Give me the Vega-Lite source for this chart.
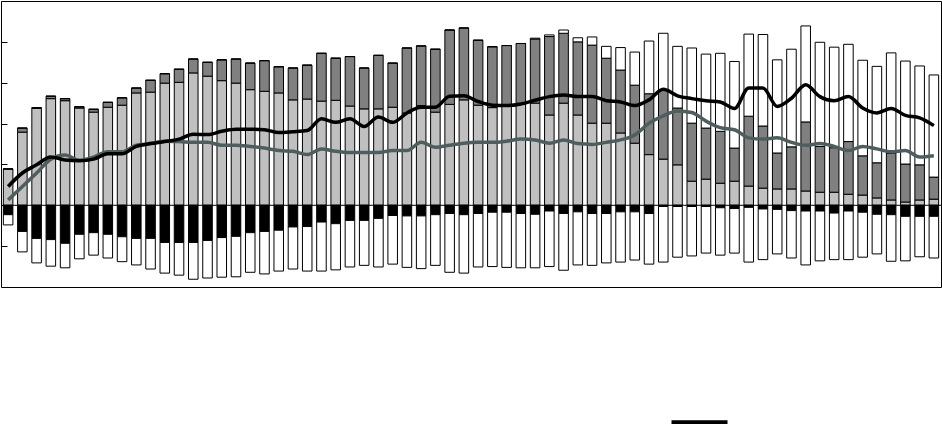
{
 "$schema": "https://vega.github.io/schema/vega-lite/v6.json",
 "width": 940,
 "height": 286,
 "autosize": {"type": "none"},
 "padding": {"left": 1, "top": 1, "right": 1, "bottom": 137},
 "background": "white",
 "config": {"view": {"stroke": "black", "strokeWidth": 1}},
 "data": {"values": [
  {"t":1,"p1":0.89,"p2":0,"p3":0,"n1":-0.23,"n2":-0.25,"k":0.46,"g":0.13},
  {"t":2,"p1":1.79,"p2":0.10,"p3":0,"n1":-0.64,"n2":-0.50,"k":0.79,"g":0.46},
  {"t":3,"p1":2.37,"p2":0.02,"p3":0,"n1":-0.81,"n2":-0.60,"k":0.99,"g":0.79},
  {"t":4,"p1":2.61,"p2":0.06,"p3":0,"n1":-0.84,"n2":-0.65,"k":1.18,"g":1.13},
  {"t":5,"p1":2.56,"p2":0.05,"p3":0,"n1":-0.93,"n2":-0.60,"k":1.11,"g":1.23},
  {"t":6,"p1":2.38,"p2":0.03,"p3":0,"n1":-0.71,"n2":-0.60,"k":1.09,"g":1.10},
  {"t":7,"p1":2.28,"p2":0.07,"p3":0,"n1":-0.67,"n2":-0.55,"k":1.13,"g":1.18},
  {"t":8,"p1":2.40,"p2":0.12,"p3":0,"n1":-0.71,"n2":-0.58,"k":1.26,"g":1.31},
  {"t":9,"p1":2.45,"p2":0.18,"p3":0,"n1":-0.77,"n2":-0.61,"k":1.26,"g":1.31},
  {"t":10,"p1":2.75,"p2":0.12,"p3":0,"n1":-0.81,"n2":-0.65,"k":1.44,"g":1.47},
  {"t":11,"p1":2.77,"p2":0.29,"p3":0,"n1":-0.81,"n2":-0.75,"k":1.51,"g":1.51},
  {"t":12,"p1":2.99,"p2":0.23,"p3":0,"n1":-0.91,"n2":-0.75,"k":1.56,"g":1.57},
  {"t":13,"p1":3.01,"p2":0.32,"p3":0,"n1":-0.91,"n2":-0.80,"k":1.62,"g":1.56},
  {"t":14,"p1":3.24,"p2":0.34,"p3":0,"n1":-0.91,"n2":-0.90,"k":1.74,"g":1.54},
  {"t":15,"p1":3.16,"p2":0.34,"p3":0,"n1":-0.86,"n2":-0.92,"k":1.73,"g":1.54},
  {"t":16,"p1":3.05,"p2":0.51,"p3":0,"n1":-0.79,"n2":-0.97,"k":1.81,"g":1.47},
  {"t":17,"p1":2.99,"p2":0.59,"p3":0,"n1":-0.76,"n2":-0.99,"k":1.86,"g":1.47},
  {"t":18,"p1":2.83,"p2":0.65,"p3":0,"n1":-0.67,"n2":-0.97,"k":1.86,"g":1.44},
  {"t":19,"p1":2.79,"p2":0.75,"p3":0,"n1":-0.64,"n2":-1.04,"k":1.85,"g":1.40},
  {"t":20,"p1":2.75,"p2":0.64,"p3":0,"n1":-0.61,"n2":-1.00,"k":1.78,"g":1.34},
  {"t":21,"p1":2.58,"p2":0.78,"p3":0,"n1":-0.53,"n2":-1.03,"k":1.80,"g":1.32},
  {"t":22,"p1":2.60,"p2":0.83,"p3":0,"n1":-0.52,"n2":-1.09,"k":1.83,"g":1.24},
  {"t":23,"p1":2.55,"p2":1.17,"p3":0,"n1":-0.41,"n2":-1.20,"k":2.12,"g":1.38},
  {"t":24,"p1":2.57,"p2":1.03,"p3":0,"n1":-0.45,"n2":-1.13,"k":2.03,"g":1.32},
  {"t":25,"p1":2.43,"p2":1.21,"p3":0,"n1":-0.37,"n2":-1.14,"k":2.12,"g":1.29},
  {"t":26,"p1":2.36,"p2":1.00,"p3":0,"n1":-0.37,"n2":-1.10,"k":1.93,"g":1.29},
  {"t":27,"p1":2.36,"p2":1.31,"p3":0,"n1":-0.32,"n2":-1.19,"k":2.16,"g":1.29},
  {"t":28,"p1":2.40,"p2":1.08,"p3":0,"n1":-0.25,"n2":-1.19,"k":2.03,"g":1.34},
  {"t":29,"p1":2.26,"p2":1.59,"p3":0,"n1":-0.26,"n2":-1.26,"k":2.26,"g":1.34},
  {"t":30,"p1":2.44,"p2":1.46,"p3":0,"n1":-0.26,"n2":-1.29,"k":2.40,"g":1.54},
  {"t":31,"p1":2.28,"p2":1.54,"p3":0,"n1":-0.23,"n2":-1.24,"k":2.40,"g":1.42},
  {"t":32,"p1":2.47,"p2":1.82,"p3":0,"n1":-0.20,"n2":-1.44,"k":2.67,"g":1.47},
  {"t":33,"p1":2.58,"p2":1.76,"p3":0,"n1":-0.23,"n2":-1.43,"k":2.68,"g":1.52},
  {"t":34,"p1":2.45,"p2":1.59,"p3":0,"n1":-0.20,"n2":-1.31,"k":2.54,"g":1.54},
  {"t":35,"p1":2.39,"p2":1.49,"p3":0,"n1":-0.17,"n2":-1.33,"k":2.45,"g":1.54},
  {"t":36,"p1":2.42,"p2":1.49,"p3":0,"n1":-0.17,"n2":-1.35,"k":2.44,"g":1.57},
  {"t":37,"p1":2.48,"p2":1.48,"p3":0,"n1":-0.20,"n2":-1.33,"k":2.48,"g":1.62},
  {"t":38,"p1":2.50,"p2":1.57,"p3":0.02,"n1":-0.22,"n2":-1.31,"k":2.57,"g":1.60},
  {"t":39,"p1":2.21,"p2":1.92,"p3":0.04,"n1":-0.14,"n2":-1.36,"k":2.66,"g":1.52},
  {"t":40,"p1":2.50,"p2":1.71,"p3":0.08,"n1":-0.20,"n2":-1.39,"k":2.70,"g":1.60},
  {"t":41,"p1":2.21,"p2":1.79,"p3":0.10,"n1":-0.16,"n2":-1.30,"k":2.66,"g":1.51},
  {"t":42,"p1":2.01,"p2":1.91,"p3":0.20,"n1":-0.20,"n2":-1.27,"k":2.66,"g":1.49},
  {"t":43,"p1":2.01,"p2":1.59,"p3":0.29,"n1":-0.20,"n2":-1.21,"k":2.56,"g":1.54},
  {"t":44,"p1":1.77,"p2":1.54,"p3":0.55,"n1":-0.16,"n2":-1.23,"k":2.53,"g":1.60},
  {"t":45,"p1":1.52,"p2":1.42,"p3":0.81,"n1":-0.16,"n2":-1.18,"k":2.44,"g":1.72},
  {"t":46,"p1":1.24,"p2":1.49,"p3":1.29,"n1":-0.20,"n2":-1.24,"k":2.58,"g":2.01},
  {"t":47,"p1":1.13,"p2":1.68,"p3":1.40,"n1":-0.03,"n2":-1.36,"k":2.84,"g":2.19},
  {"t":48,"p1":0.99,"p2":1.39,"p3":1.51,"n1":-0.03,"n2":-1.24,"k":2.68,"g":2.31},
  {"t":49,"p1":0.59,"p2":1.42,"p3":1.84,"n1":-0.03,"n2":-1.21,"k":2.61,"g":2.27},
  {"t":50,"p1":0.64,"p2":1.25,"p3":1.81,"n1":-0.03,"n2":-1.14,"k":2.56,"g":2.06},
  {"t":51,"p1":0.54,"p2":1.27,"p3":1.91,"n1":-0.06,"n2":-1.16,"k":2.53,"g":1.90},
  {"t":52,"p1":0.59,"p2":0.81,"p3":2.12,"n1":-0.08,"n2":-1.09,"k":2.37,"g":1.85},
  {"t":53,"p1":0.47,"p2":1.71,"p3":2.01,"n1":-0.05,"n2":-1.34,"k":2.87,"g":1.65},
  {"t":54,"p1":0.42,"p2":1.52,"p3":2.24,"n1":-0.09,"n2":-1.24,"k":2.87,"g":1.62},
  {"t":55,"p1":0.40,"p2":0.88,"p3":2.28,"n1":-0.10,"n2":-1.09,"k":2.42,"g":1.65},
  {"t":56,"p1":0.40,"p2":1.03,"p3":2.39,"n1":-0.13,"n2":-1.16,"k":2.62,"g":1.54},
  {"t":57,"p1":0.35,"p2":1.69,"p3":2.35,"n1":-0.14,"n2":-1.32,"k":2.95,"g":1.47},
  {"t":58,"p1":0.32,"p2":1.12,"p3":2.55,"n1":-0.14,"n2":-1.22,"k":2.66,"g":1.51},
  {"t":59,"p1":0.32,"p2":1.09,"p3":2.46,"n1":-0.19,"n2":-1.14,"k":2.56,"g":1.44},
  {"t":60,"p1":0.27,"p2":1.29,"p3":2.38,"n1":-0.14,"n2":-1.19,"k":2.66,"g":1.34},
  {"t":61,"p1":0.25,"p2":0.96,"p3":2.34,"n1":-0.17,"n2":-1.10,"k":2.38,"g":1.44},
  {"t":62,"p1":0.18,"p2":0.86,"p3":2.36,"n1":-0.22,"n2":-0.97,"k":2.26,"g":1.38},
  {"t":63,"p1":0.13,"p2":1.15,"p3":2.45,"n1":-0.23,"n2":-1.14,"k":2.37,"g":1.31},
  {"t":64,"p1":0.08,"p2":0.93,"p3":2.52,"n1":-0.27,"n2":-1.09,"k":2.20,"g":1.34},
  {"t":65,"p1":0.13,"p2":0.86,"p3":2.42,"n1":-0.27,"n2":-0.99,"k":2.14,"g":1.18},
  {"t":66,"p1":0.15,"p2":0.54,"p3":2.50,"n1":-0.27,"n2":-1.02,"k":1.95,"g":1.21}
 ]},
 "layer": [
  {
   "transform": [{"fold": ["p1","p2","p3","n1","n2"], "as": ["seg","v"]}],
   "mark": {"type": "bar", "stroke": "black", "strokeWidth": 1},
   "encoding": {
    "x": {"field": "t", "type": "ordinal", "axis": null, "scale": {"paddingInner": 0.33, "paddingOuter": 0.165}},
    "y": {"field": "v", "type": "quantitative", "stack": "zero", "scale": {"domain": [-2, 5], "nice": false, "zero": false},
          "axis": {"values": [-1,0,1,2,3,4], "labels": false, "domain": false, "grid": false, "ticks": true, "tickSize": 6, "offset": -6, "tickColor": "black", "tickWidth": 1, "title": null}},
    "fill": {"field": "seg", "type": "nominal", "scale": {"domain": ["p1","p2","p3","n1","n2"], "range": ["#c0c0c0","#808080","#ffffff","#000000","#ffffff"]}, "legend": null},
    "order": {"field": "seg", "type": "ordinal"}
   }
  },
  {
   "data": {"values": [{}]},
   "mark": {"type": "rule", "color": "black", "strokeWidth": 1},
   "encoding": {"y": {"datum": 0, "type": "quantitative"}}
  },
  {
   "mark": {"type": "line", "interpolate": "monotone", "strokeWidth": 3.5},
   "encoding": {
    "x": {"field": "t", "type": "ordinal"},
    "y": {"field": "g", "type": "quantitative"},
    "color": {"datum": "Average"}
   }
  },
  {
   "mark": {"type": "line", "interpolate": "monotone", "strokeWidth": 3.5},
   "encoding": {
    "x": {"field": "t", "type": "ordinal"},
    "y": {"field": "k", "type": "quantitative"},
    "color": {"datum": "Total", "scale": {"domain": ["Total", "Average"], "range": ["#000000", "#4e5e5e"]},
              "legend": {"orient": "none", "legendX": 668, "legendY": 391, "title": null, "symbolType": "stroke", "symbolSize": 3136, "symbolStrokeWidth": 4.5, "labelExpr": "''", "labelFontSize": 11, "labelFont": "Liberation Sans", "padding": 0}}
   }
  }
 ]
}
